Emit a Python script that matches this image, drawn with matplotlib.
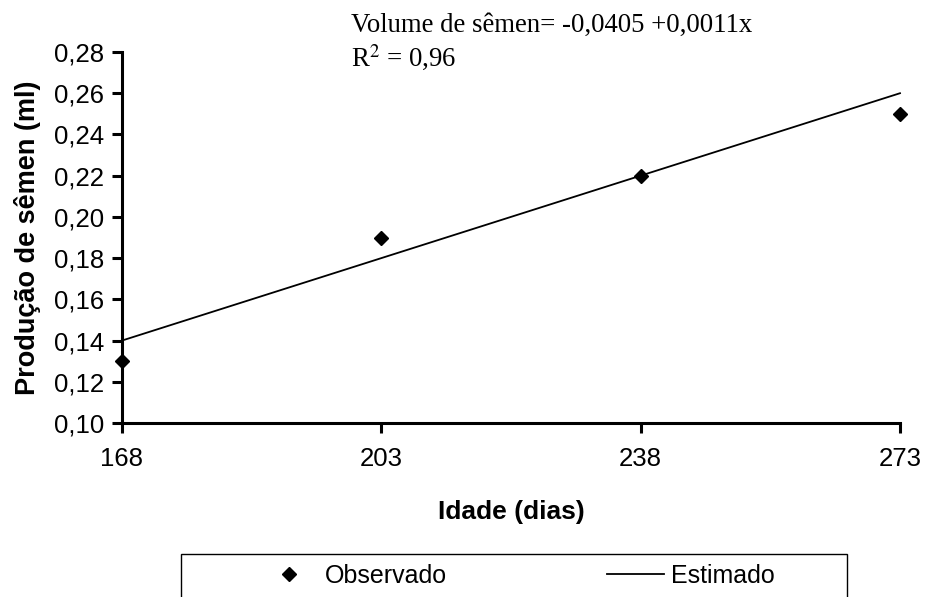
import matplotlib
matplotlib.use("Agg")
import matplotlib.pyplot as plt
from matplotlib.patches import Rectangle
from matplotlib.ticker import FuncFormatter

idade = [168, 203, 238, 273]
observado = [0.13, 0.19, 0.22, 0.25]
estimado = [0.14, 0.18, 0.22, 0.26]
yticks = [0.10, 0.12, 0.14, 0.16, 0.18, 0.20, 0.22, 0.24, 0.26, 0.28]

W, H = 925, 597
fig = plt.figure(figsize=(W / 100, H / 100), dpi=100)
ax = fig.add_axes([122 / W, (H - 423) / H, (900 - 122) / W, (423 - 52) / H])

sans = "Liberation Sans"
serif = "Liberation Serif"

ax.plot(idade, estimado, color="black", lw=1.3, label="Estimado", clip_on=False, zorder=3)
ax.plot(idade, observado, linestyle="none", marker="D", markersize=7, color="black",
        label="Observado", clip_on=False, zorder=4)

ax.set_xlim(168, 273)
ax.set_ylim(0.10, 0.28)
ax.set_xticks(idade)
ax.set_yticks(yticks)
ax.yaxis.set_major_formatter(FuncFormatter(lambda v, p: f"{v:.2f}".replace(".", ",")))

for s in ["top", "right"]:
    ax.spines[s].set_visible(False)
for s in ["left", "bottom"]:
    ax.spines[s].set_linewidth(2.2)
ax.tick_params(axis="both", direction="out", length=7, width=2.2, labelsize=18.5, pad=6)
ax.tick_params(axis="x", pad=10)
for lab in ax.get_xticklabels() + ax.get_yticklabels():
    lab.set_fontfamily(sans)

ax.set_xlabel("Idade (dias)", fontsize=19, fontweight="bold", family=sans, labelpad=21)
ax.set_ylabel("Produção de sêmen (ml)", fontsize=19.5, fontweight="bold", family=sans, labelpad=9)

fig.text(351 / W, 1 - 25 / H, "Volume de sêmen= -0,0405 +0,0011x", family=serif,
         fontsize=19.3, va="center", ha="left")
fig.text(351 / W, 1 - 58 / H, "R$^2$ = 0,96", family=serif, fontsize=19.3,
         va="center", ha="left", math_fontfamily="stix")

# legend box (Excel style, cut by the bottom of the image)
fig.add_artist(Rectangle((181 / W, -0.05), (847 - 181) / W, (597 - 554) / H + 0.05,
                         transform=fig.transFigure, fill=False, edgecolor="black", lw=1.0))

h, l = ax.get_legend_handles_labels()
leg = fig.legend([h[1], h[0]], [l[1], l[0]], loc="center left",
                 bbox_to_anchor=(260 / W, 1 - 576 / H), ncol=2, frameon=False,
                 prop={"family": sans, "size": 18},
                 handlelength=2.3, handletextpad=0.28, columnspacing=6.4,
                 borderpad=0, borderaxespad=0)

fig.savefig("out.png", dpi=100)
